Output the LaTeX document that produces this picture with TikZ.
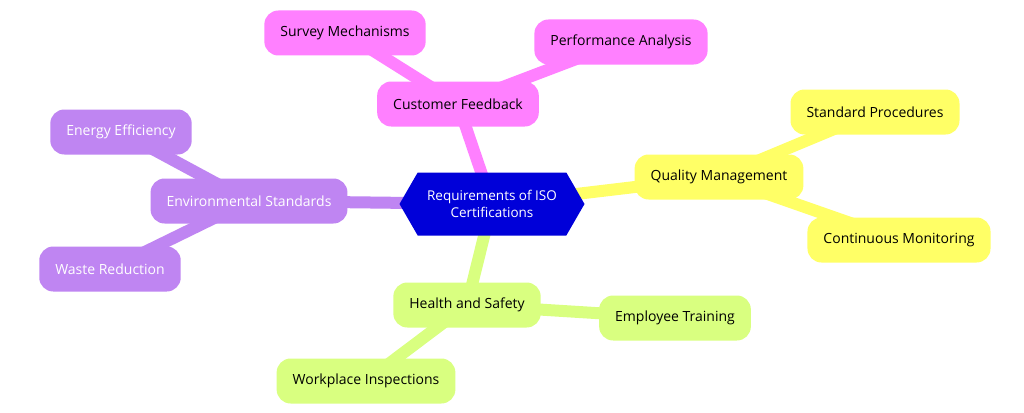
\documentclass[tikz,border=0pt]{standalone}
\usepackage{fontspec}
\setmainfont{Open Sans}
\usetikzlibrary{shapes.symbols,backgrounds}
\definecolor{hubblue}{rgb}{0.0,0.0,0.85}
\definecolor{pinkbox}{rgb}{1.0,0.5,1.0}
\definecolor{yellowbox}{rgb}{1.0,1.0,0.4}
\definecolor{purplebox}{rgb}{0.75,0.52,0.95}
\definecolor{greenbox}{rgb}{0.85,1.0,0.5}

\begin{document}
\begin{tikzpicture}[x=1pt,y=-1pt,
    font=\fontsize{14}{17}\selectfont,
    topic/.style={rounded corners=14pt,minimum height=45pt,inner xsep=16pt},
    link/.style={line width=12pt}]

        % hub
        \node [signal,signal to=west and east,fill=hubblue,text=white,align=center,
               minimum width=185pt,minimum height=63pt,signal pointer angle=120,
               font=\fontsize{13.5}{17}\selectfont] (hub) at (492,204)
               {Requirements of ISO\\Certifications};

        % main topics
        \node [topic,fill=pinkbox] (feedback) at (458,104) {Customer Feedback};
        \node [topic,fill=yellowbox] (quality) at (719,177) {Quality Management};
        \node [topic,fill=purplebox,text=white] (environ) at (249,201) {Environmental Standards};
        \node [topic,fill=greenbox] (health) at (467,305) {Health and Safety};

        % leaves
        \node [topic,fill=pinkbox] (survey) at (345,33) {Survey Mechanisms};
        \node [topic,fill=pinkbox] (perform) at (621,42) {Performance Analysis};
        \node [topic,fill=yellowbox] (standard) at (875,112) {Standard Procedures};
        \node [topic,fill=yellowbox] (monitor) at (899,240) {Continuous Monitoring};
        \node [topic,fill=purplebox,text=white] (energy) at (121,132) {Energy Efficiency};
        \node [topic,fill=purplebox,text=white] (waste) at (110,269) {Waste Reduction};
        \node [topic,fill=greenbox] (training) at (675,318) {Employee Training};
        \node [topic,fill=greenbox] (inspect) at (366,381) {Workplace Inspections};

        \begin{scope}[on background layer]
        \fill[white] (0,0) rectangle (1024,412);
        \draw [link,pinkbox] (hub.center) -- (feedback.center);
        \draw [link,pinkbox] (feedback.center) -- (survey.center);
        \draw [link,pinkbox] (feedback.center) -- (perform.center);
        \draw [link,yellowbox] (hub.center) -- (quality.center);
        \draw [link,yellowbox] (quality.center) -- (standard.center);
        \draw [link,yellowbox] (quality.center) -- (monitor.center);
        \draw [link,purplebox] (hub.center) -- (environ.center);
        \draw [link,purplebox] (environ.center) -- (energy.center);
        \draw [link,purplebox] (environ.center) -- (waste.center);
        \draw [link,greenbox] (hub.center) -- (health.center);
        \draw [link,greenbox] (health.center) -- (training.center);
        \draw [link,greenbox] (health.center) -- (inspect.center);
        \end{scope}

        \useasboundingbox (0,0) rectangle (1024,412);
\end{tikzpicture}
\end{document}
